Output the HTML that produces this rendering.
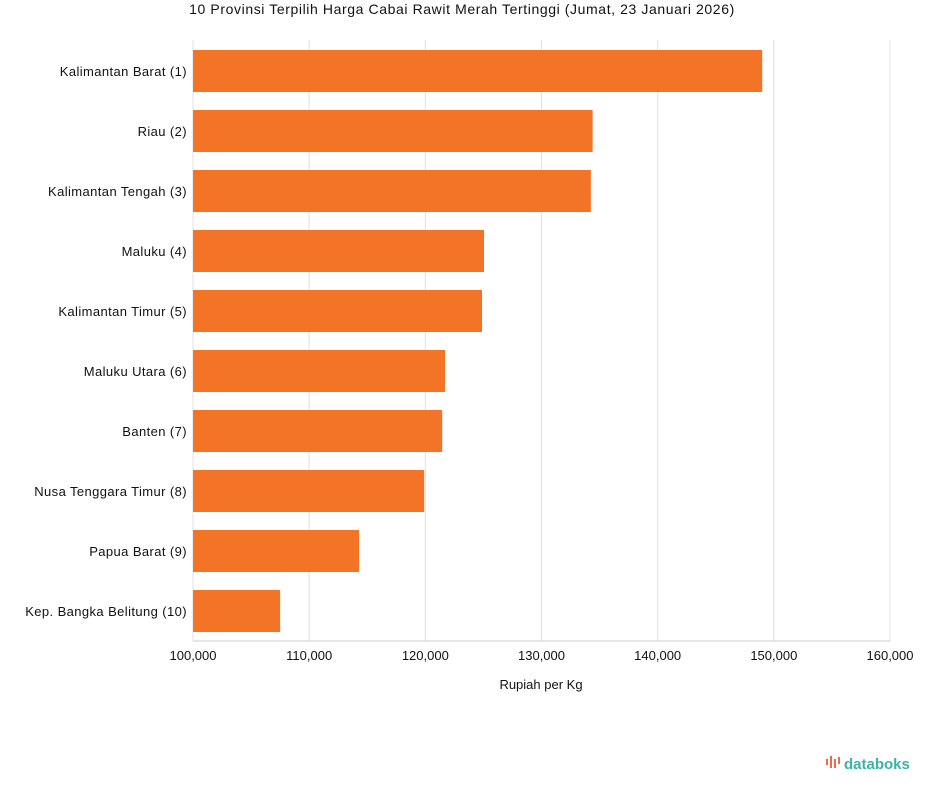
<!DOCTYPE html>
<html><head><meta charset="utf-8"><style>
body{margin:0;background:#fff;font-family:"Liberation Sans",sans-serif;}
svg text{font-family:"Liberation Sans",sans-serif;}
</style></head><body>
<svg width="925" height="792" id="c">
<text x="462" y="14" text-anchor="middle" font-size="14" letter-spacing="0.6" fill="#111">10 Provinsi Terpilih Harga Cabai Rawit Merah Tertinggi (Jumat, 23 Januari 2026)</text>
<text x="541" y="689" text-anchor="middle" font-size="13" fill="#111">Rupiah per Kg</text>
<g>
<g fill="#f0674f"><rect x="826" y="759" width="2" height="6"/><rect x="830" y="756" width="2" height="12"/><rect x="834" y="759" width="2" height="9"/><rect x="838" y="757" width="2" height="7"/></g>
<text x="844" y="769" font-size="15" font-weight="bold" fill="#3bb3a7">databoks</text>
</g>
</svg>
<script>
const categories=["Kalimantan Barat (1)","Riau (2)","Kalimantan Tengah (3)","Maluku (4)","Kalimantan Timur (5)","Maluku Utara (6)","Banten (7)","Nusa Tenggara Timur (8)","Papua Barat (9)","Kep. Bangka Belitung (10)"];
const values=[149000,134400,134250,125050,124880,121700,121450,119900,114300,107500];
const ticks=[100000,110000,120000,130000,140000,150000,160000];
const NS="http://www.w3.org/2000/svg",svg=document.getElementById('c');
const x=v=>193+(v-100000)*(890-193)/60000;
const y=i=>50+i*60;
function mk(t,a,p){const e=document.createElementNS(NS,t);for(const k in a)e.setAttribute(k,a[k]);(p||svg).appendChild(e);return e;}
ticks.forEach((t,i)=>{
 const g=mk('line',{x1:x(t),x2:x(t),y1:40,y2:641,stroke:'#e0e0e0'});
 
 
 const l=mk('text',{x:x(t),y:660,'text-anchor':'middle','font-size':13,fill:'#111'});
 l.textContent=t.toLocaleString('en-US');
 
 
});
const ax=mk('line',{x1:193,x2:890,y1:641,y2:641,stroke:'#ccc'});


categories.forEach((c,i)=>{
 const r=mk('rect',{x:x(100000),y:y(i),width:x(values[i])-x(100000),height:42,fill:'#f37327'});
 
 
 const t=mk('text',{x:187,y:y(i)+26,'text-anchor':'end','font-size':13,'letter-spacing':0.4,fill:'#111'});
 t.textContent=c;
 
 
});
</script>
</body></html>
